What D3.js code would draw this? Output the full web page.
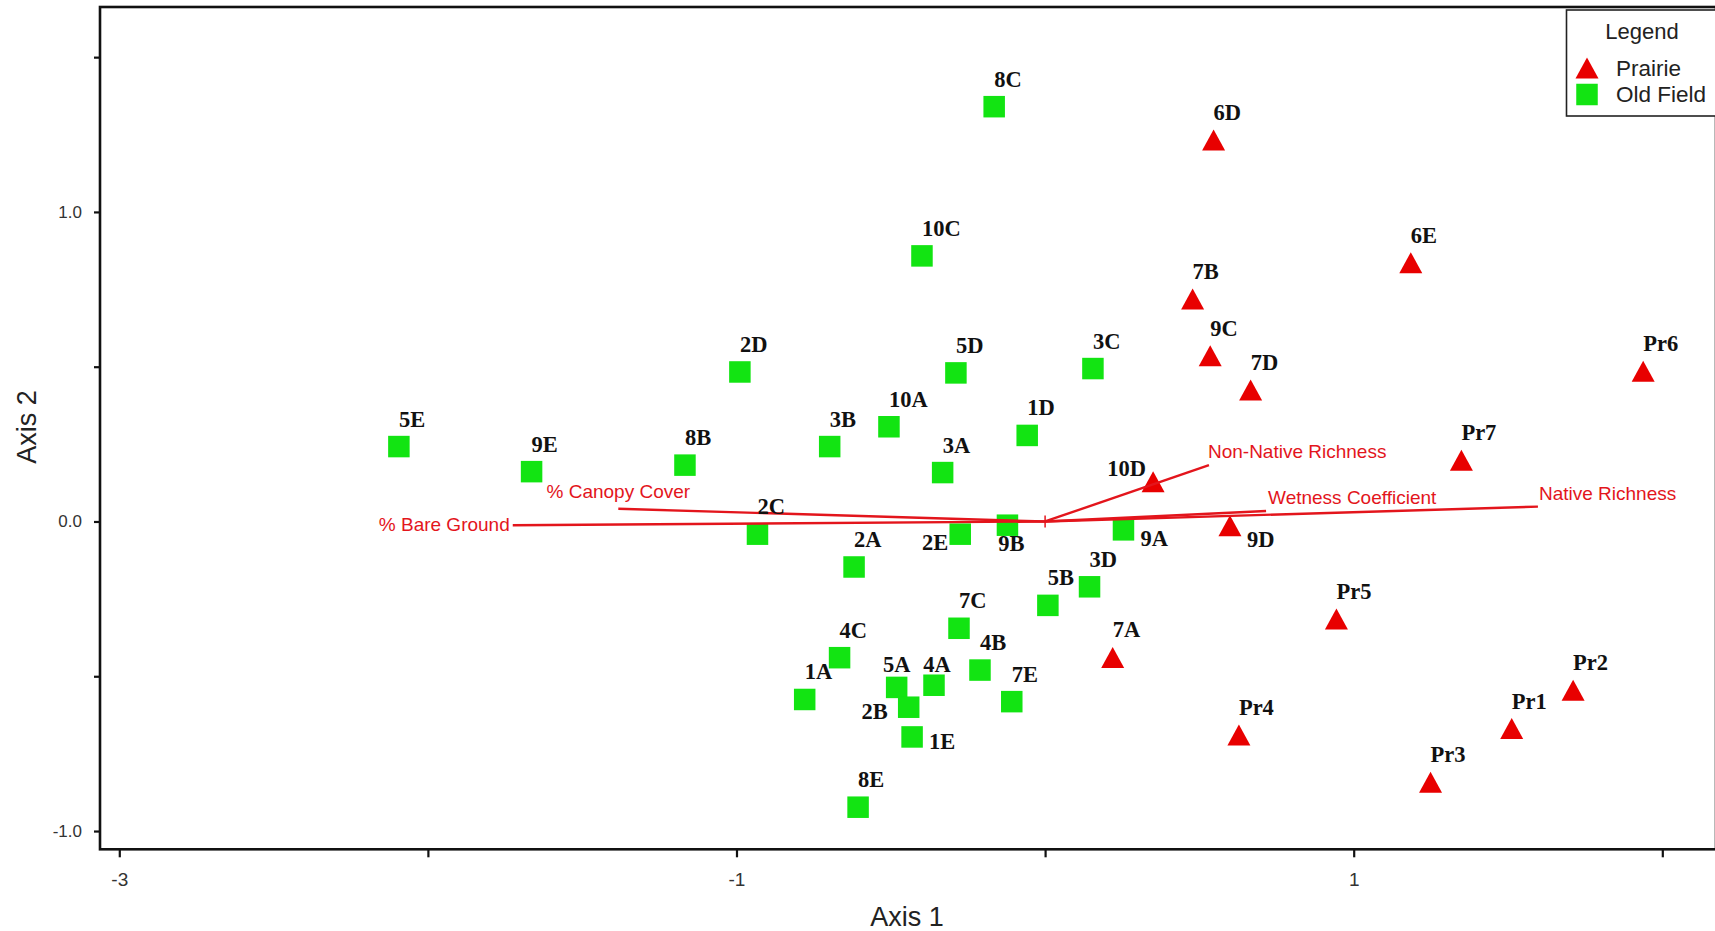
<!DOCTYPE html>
<html>
<head>
<meta charset="utf-8">
<script src="https://cdn.jsdelivr.net/npm/d3@7/dist/d3.min.js"></script>
<style>
  html, body { margin: 0; padding: 0; background: #fff; }
  svg { display: block; }
</style>
</head>
<body>
<svg id="chart" width="1715" height="931"></svg>
<script>
// ---------------- DATA ----------------
const oldFieldNames = ["8C","10C","2D","5D","3C","5E","9E","8B","3B","10A","3A","1D","2C","2E","9B","2A","9A","3D","5B","7C","4C","4B","5A","4A","1A","2B","7E","1E","8E"];
const oldFieldX = [-0.165,-0.399,-0.989,-0.289,0.155,-2.094,-1.664,-1.167,-0.698,-0.506,-0.332,-0.058,-0.932,-0.275,-0.122,-0.619,0.254,0.144,0.009,-0.279,-0.666,-0.211,-0.481,-0.360,-0.779,-0.442,-0.108,-0.431,-0.606];
const oldFieldY = [1.340,0.858,0.483,0.480,0.494,0.242,0.161,0.182,0.242,0.306,0.158,0.278,-0.041,-0.041,-0.012,-0.147,-0.027,-0.211,-0.271,-0.345,-0.440,-0.480,-0.536,-0.529,-0.575,-0.600,-0.582,-0.696,-0.923];

const prairieNames = ["6D","6E","7B","9C","7D","Pr6","Pr7","10D","9D","Pr5","7A","Pr2","Pr1","Pr4","Pr3"];
const prairieX = [0.546,1.185,0.478,0.535,0.666,1.938,1.349,0.350,0.599,0.944,0.219,1.711,1.512,0.628,1.249];
const prairieY = [1.232,0.836,0.719,0.535,0.425,0.485,0.198,0.128,-0.014,-0.315,-0.439,-0.545,-0.669,-0.690,-0.842];

const vectorNames = ["% Bare Ground","% Canopy Cover","Non-Native Richness","Wetness Coefficient","Native Richness"];
const vectorX = [-1.725,-1.383,0.531,0.716,1.597];
const vectorY = [-0.012,0.041,0.182,0.034,0.048];

const xTickValues = [-3,-2,-1,0,1,2];
const xTickLabels = ["-3","","-1","","1",""];
const yTickValues = [-1,-0.5,0,0.5,1,1.5];
const yTickLabels = ["-1.0","","0.0","","1.0",""];

const seriesNames = ["Prairie","Old Field"];
const legendTitle = "Legend";
const xTitle = "Axis 1";
const yTitle = "Axis 2";

// ---------------- LAYOUT (not data) ----------------
const defaultLabel = {anchor: "start", dx: 0, dy: -20};
const labelPlacement = {
  "5A": {anchor: "middle", dx: 0, dy: -15},
  "4A": {anchor: "middle", dx: 3, dy: -13},
  "2B": {anchor: "end", dx: -21, dy: 12},
  "1E": {anchor: "start", dx: 17, dy: 12},
  "9B": {anchor: "middle", dx: 4, dy: 26},
  "2E": {anchor: "end", dx: -12, dy: 16},
  "9A": {anchor: "start", dx: 17, dy: 16},
  "9D": {anchor: "start", dx: 17, dy: 21},
  "10D": {anchor: "end", dx: -7, dy: -6}
};
const vectorLabelPlacement = {
  "% Bare Ground": {anchor: "end", dx: -3, dy: 6},
  "% Canopy Cover": {anchor: "middle", dx: 0, dy: -11},
  "Non-Native Richness": {anchor: "start", dx: -1, dy: -7},
  "Wetness Coefficient": {anchor: "start", dx: 2, dy: -7},
  "Native Richness": {anchor: "start", dx: 1, dy: -7}
};

const GREEN = "#12e412";
const RED = "#e80000";
const VEC = "#e3151c";

const plot = {left: 100, right: 1716, top: 7, bottom: 849.3};

const svg = d3.select("#chart");

const x = d3.scaleLinear().domain([-3.0625, 2.174]).range([plot.left, plot.right]);
const y = d3.scaleLinear().domain([-1.059, 1.662]).range([plot.bottom, plot.top]);

// axes
const xAxis = d3.axisBottom(x)
  .tickValues(xTickValues)
  .tickSize(8)
  .tickPadding(15)
  .tickFormat((d, i) => xTickLabels[i]);
const yAxis = d3.axisLeft(y)
  .tickValues(yTickValues)
  .tickSize(6)
  .tickPadding(12)
  .tickFormat((d, i) => yTickLabels[i]);

const gx = svg.append("g").attr("transform", `translate(0,${plot.bottom})`).call(xAxis);
const gy = svg.append("g").attr("transform", `translate(${plot.left},0)`).call(yAxis);
[gx, gy].forEach(g => {
  g.select(".domain").remove();
  g.selectAll(".tick line").attr("stroke", "#111").attr("stroke-width", 2.2);
  g.selectAll(".tick text").attr("fill", "#333").attr("font-family", "Arial, 'Liberation Sans', Helvetica, sans-serif");
});
gx.selectAll(".tick text").attr("font-size", 19);
gy.selectAll(".tick text").attr("font-size", 17);

// frame
svg.append("rect")
  .attr("x", plot.left).attr("y", plot.top)
  .attr("width", plot.right - plot.left).attr("height", plot.bottom - plot.top)
  .attr("fill", "none").attr("stroke", "#111").attr("stroke-width", 2.6);

// axis titles
svg.append("text")
  .attr("x", 907).attr("y", 926)
  .attr("text-anchor", "middle")
  .attr("font-family", "Arial, 'Liberation Sans', Helvetica, sans-serif")
  .attr("font-size", 27).attr("fill", "#222")
  .text(xTitle);
svg.append("text")
  .attr("transform", "translate(36,427) rotate(-90)")
  .attr("text-anchor", "middle")
  .attr("font-family", "Arial, 'Liberation Sans', Helvetica, sans-serif")
  .attr("font-size", 27).attr("fill", "#222")
  .text(yTitle);

// markers
const SQ = 21.5;
const TW = 23, TH = 21;
const triPath = `M0,${-TH/2}L${TW/2},${TH/2}L${-TW/2},${TH/2}Z`;

const oldField = oldFieldNames.map((n, i) => ({name: n, x: oldFieldX[i], y: oldFieldY[i], type: "sq"}));
const prairie = prairieNames.map((n, i) => ({name: n, x: prairieX[i], y: prairieY[i], type: "tri"}));

svg.append("g").selectAll("rect").data(oldField).join("rect")
  .attr("x", d => x(d.x) - SQ/2)
  .attr("y", d => y(d.y) - SQ/2)
  .attr("width", SQ).attr("height", SQ)
  .attr("fill", GREEN);

svg.append("g").selectAll("path").data(prairie).join("path")
  .attr("transform", d => `translate(${x(d.x)},${y(d.y)})`)
  .attr("d", triPath)
  .attr("fill", RED);

// biplot vectors
const vectors = vectorNames.map((n, i) => ({name: n, x: vectorX[i], y: vectorY[i]}));
const gv = svg.append("g");
gv.selectAll("line").data(vectors).join("line")
  .attr("x1", x(0)).attr("y1", y(0))
  .attr("x2", d => x(d.x)).attr("y2", d => y(d.y))
  .attr("stroke", VEC).attr("stroke-width", 2.4);
gv.append("line")
  .attr("x1", x(0)).attr("x2", x(0))
  .attr("y1", y(0) - 6).attr("y2", y(0) + 6)
  .attr("stroke", VEC).attr("stroke-width", 1.5);
gv.selectAll("text").data(vectors).join("text")
  .attr("x", d => x(d.x) + vectorLabelPlacement[d.name].dx)
  .attr("y", d => y(d.y) + vectorLabelPlacement[d.name].dy)
  .attr("text-anchor", d => vectorLabelPlacement[d.name].anchor)
  .attr("font-family", "Arial, 'Liberation Sans', Helvetica, sans-serif")
  .attr("font-size", 19)
  .attr("fill", VEC)
  .text(d => d.name);

// point labels
const allPts = oldField.concat(prairie);
svg.append("g").selectAll("text").data(allPts).join("text")
  .attr("x", d => x(d.x) + (labelPlacement[d.name] || defaultLabel).dx)
  .attr("y", d => y(d.y) + (labelPlacement[d.name] || defaultLabel).dy)
  .attr("text-anchor", d => (labelPlacement[d.name] || defaultLabel).anchor)
  .attr("font-family", "'Liberation Serif', 'Times New Roman', serif")
  .attr("font-weight", "bold")
  .attr("font-size", 22.5)
  .attr("fill", "#111")
  .text(d => d.name);

// legend
const lg = svg.append("g");
lg.append("rect")
  .attr("x", 1566.5).attr("y", 10)
  .attr("width", 160).attr("height", 106)
  .attr("fill", "#fff").attr("stroke", "#222").attr("stroke-width", 1.6);
lg.append("text")
  .attr("x", 1642).attr("y", 39)
  .attr("text-anchor", "middle")
  .attr("font-family", "Arial, 'Liberation Sans', Helvetica, sans-serif")
  .attr("font-size", 22).attr("fill", "#222")
  .text(legendTitle);
const legendRows = [
  {name: seriesNames[0], type: "tri", cy: 68, base: 75.5},
  {name: seriesNames[1], type: "sq", cy: 94.5, base: 102}
];
legendRows.forEach(r => {
  if (r.type === "tri") {
    lg.append("path").attr("transform", `translate(1587,${r.cy})`).attr("d", triPath).attr("fill", RED);
  } else {
    lg.append("rect").attr("x", 1587 - SQ/2).attr("y", r.cy - SQ/2).attr("width", SQ).attr("height", SQ).attr("fill", GREEN);
  }
  lg.append("text")
    .attr("x", 1616).attr("y", r.base)
    .attr("font-family", "Arial, 'Liberation Sans', Helvetica, sans-serif")
    .attr("font-size", 22.5).attr("fill", "#222")
    .text(r.name);
});
</script>
</body>
</html>
